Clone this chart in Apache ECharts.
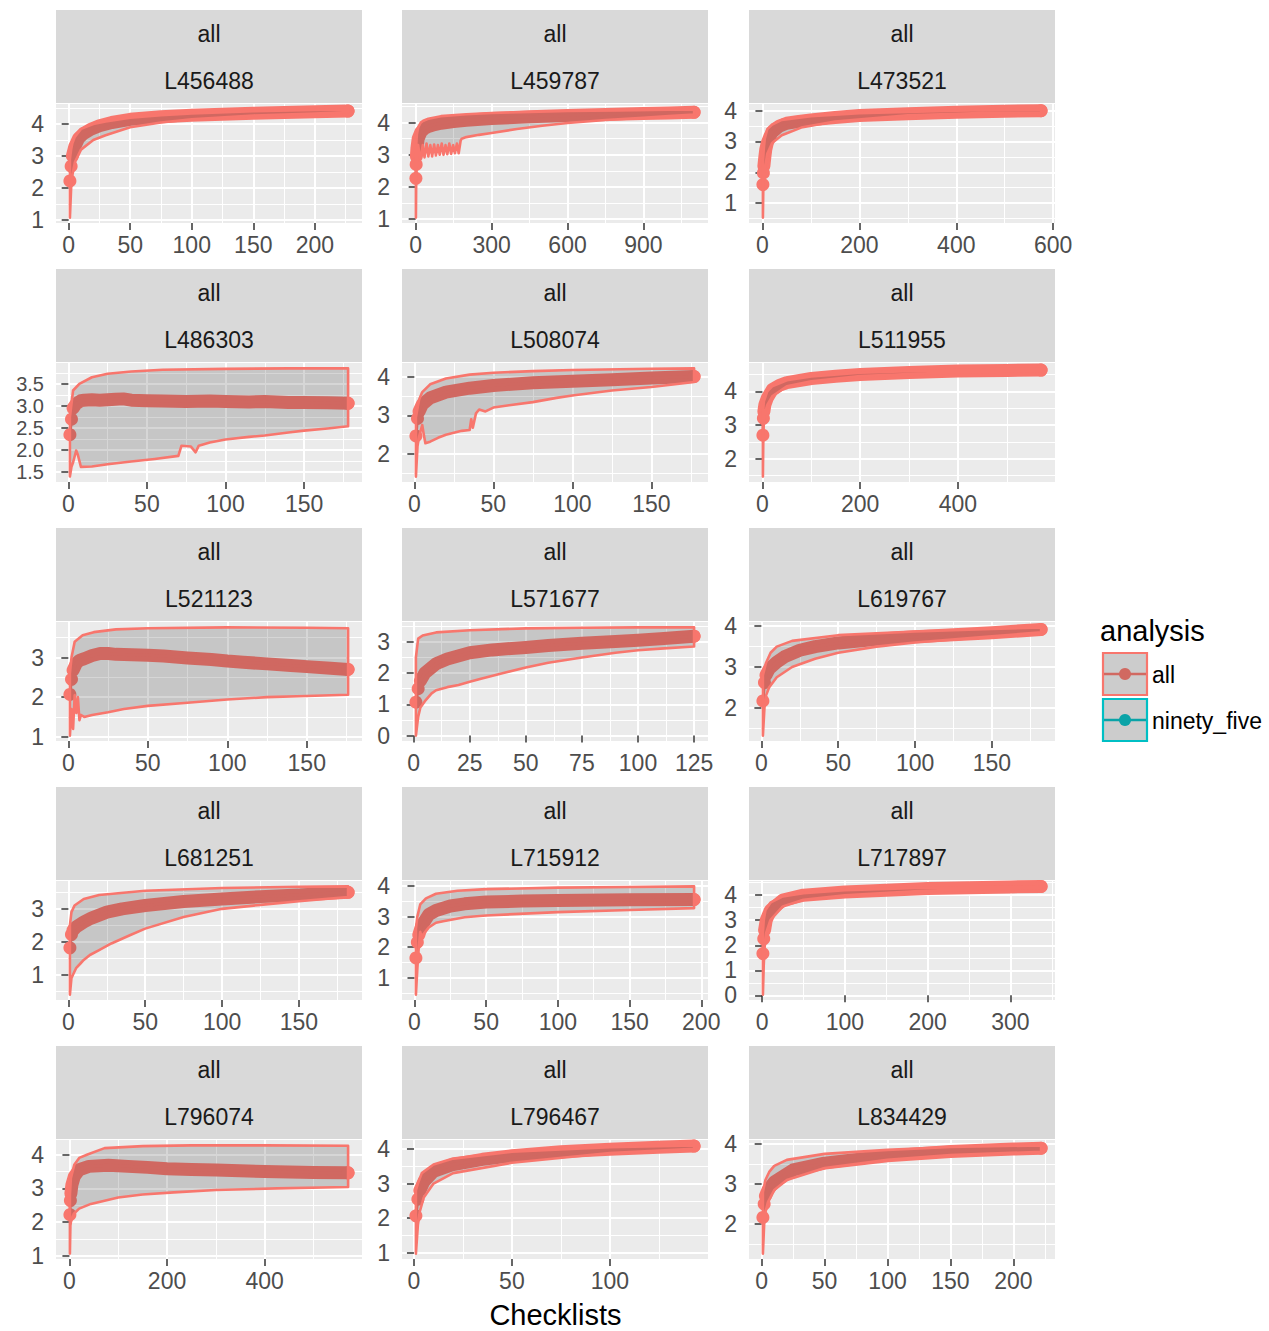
<!DOCTYPE html>
<html><head><meta charset="utf-8">
<script src="https://cdn.jsdelivr.net/npm/echarts@6/dist/echarts.min.js"></script>
<style>html,body{margin:0;padding:0;background:#fff}#c{width:1269px;height:1331px}</style>
</head><body><div id="c"></div>
<script>
// ---------- DATA ----------
const facetTop = 'all';
const seriesNames = ['all', 'ninety_five'];

const L456488_x = [1,2,3,5,8,12,18,25,35,50,75,100,125,150,175,200,227];
const L456488_mean = [2.22,2.68,3.0,3.3,3.55,3.7,3.84,3.95,4.05,4.15,4.23,4.28,4.31,4.34,4.36,4.39,4.41];
const L456488_lox = [1,2,3,5,10,20,30,50,75,100,150,200,227];
const L456488_lo = [1.07,2.0,2.4,2.8,3.2,3.5,3.65,3.9,4.05,4.15,4.27,4.33,4.38];
const L456488_hix = [1,2,3,5,10,20,30,50,75,100,150,200,227];
const L456488_hi = [2.9,3.2,3.4,3.6,3.85,4.0,4.08,4.2,4.28,4.33,4.4,4.44,4.46];
const L456488_xticks = ['0','50','100','150','200'];
const L456488_yticks = ['1','2','3','4'];

const L459787_x = [1,2,3,5,10,20,35,50,75,100,150,200,300,450,600,750,900,1000,1100];
const L459787_mean = [2.27,2.7,2.95,3.2,3.5,3.7,3.82,3.88,3.94,3.98,4.03,4.07,4.13,4.18,4.22,4.25,4.28,4.3,4.32];
const L459787_lox = [1,2,3,6,10,15,20,28,35,43,50,58,65,73,80,88,95,103,110,118,125,133,140,148,155,163,170,178,182,200,250,300,400,500,600,750,900,1000,1100];
const L459787_lo = [1.05,2.0,2.5,2.9,3.3,3.0,2.9,3.3,2.92,3.35,2.95,3.3,2.95,3.32,2.98,3.3,3.0,3.35,3.0,3.3,3.02,3.35,3.03,3.3,3.05,3.35,3.05,3.45,3.5,3.55,3.62,3.68,3.8,3.9,3.99,4.08,4.15,4.2,4.25];
const L459787_hix = [1,2,3,5,10,20,30,50,100,200,300,450,600,800,1000,1100];
const L459787_hi = [2.9,3.2,3.4,3.65,3.85,4.0,4.06,4.12,4.2,4.26,4.3,4.33,4.36,4.38,4.4,4.41];
const L459787_xticks = ['0','300','600','900'];
const L459787_yticks = ['1','2','3','4'];

const L473521_x = [1,2,3,5,7,10,15,20,35,50,75,100,150,200,300,400,500,575];
const L473521_mean = [1.6,1.98,2.2,2.5,2.75,2.95,3.15,3.3,3.5,3.59,3.65,3.7,3.78,3.84,3.9,3.95,3.98,4.0];
const L473521_lox = [1,2,3,5,10,20,40,80,150,300,450,575];
const L473521_lo = [0.53,1.7,1.9,2.1,2.6,2.95,3.2,3.45,3.65,3.85,3.92,3.95];
const L473521_hix = [1,3,5,10,20,40,100,200,400,575];
const L473521_hi = [2.3,2.8,3.1,3.4,3.55,3.7,3.82,3.92,4.0,4.04];
const L473521_xticks = ['0','200','400','600'];
const L473521_yticks = ['1','2','3','4'];

const L486303_x = [1,2,3,5,8,10,15,20,25,30,35,40,50,60,75,90,100,115,125,140,150,165,178];
const L486303_mean = [2.35,2.7,2.95,3.05,3.12,3.13,3.14,3.13,3.14,3.15,3.16,3.13,3.12,3.11,3.1,3.11,3.1,3.09,3.1,3.08,3.08,3.07,3.06];
const L486303_lox = [1,2,3,5,6,8,15,25,40,55,70,72,78,81,83,90,100,115,125,140,150,165,178];
const L486303_lo = [1.4,1.62,1.72,1.99,1.9,1.62,1.63,1.68,1.74,1.8,1.87,2.1,2.08,1.95,2.1,2.17,2.24,2.3,2.33,2.4,2.44,2.49,2.54];
const L486303_hix = [1,3,7,15,25,40,60,100,140,178];
const L486303_hi = [2.75,3.35,3.5,3.65,3.73,3.78,3.82,3.84,3.85,3.85];
const L486303_xticks = ['0','50','100','150'];
const L486303_yticks = ['1.5','2.0','2.5','3.0','3.5'];

const L508074_x = [1,2,3,5,10,20,35,50,75,100,125,150,177];
const L508074_mean = [2.47,2.92,3.1,3.28,3.45,3.6,3.7,3.77,3.84,3.88,3.92,3.96,4.0];
const L508074_lox = [1,2,3,5,6,7,10,15,20,25,30,35,36,37,39,41,45,50,60,75,90,100,125,150,165,177];
const L508074_lo = [1.42,2.2,2.45,2.75,2.5,2.28,2.32,2.42,2.5,2.55,2.6,2.62,2.9,2.68,3.05,3.15,3.1,3.2,3.26,3.34,3.45,3.51,3.64,3.73,3.8,3.86];
const L508074_hix = [1,3,5,10,20,35,50,75,100,150,177];
const L508074_hi = [2.95,3.4,3.6,3.8,3.95,4.05,4.1,4.14,4.17,4.2,4.21];
const L508074_xticks = ['0','50','100','150'];
const L508074_yticks = ['2','3','4'];

const L511955_x = [1,2,3,5,10,20,35,50,100,150,200,300,400,500,570];
const L511955_mean = [2.7,3.2,3.4,3.6,3.8,4.05,4.18,4.26,4.38,4.45,4.5,4.56,4.6,4.62,4.63];
const L511955_lox = [1,2,3,5,10,20,50,100,200,400,570];
const L511955_lo = [1.47,2.8,3.1,3.35,3.6,3.85,4.15,4.3,4.45,4.57,4.6];
const L511955_hix = [1,3,10,20,50,100,200,400,570];
const L511955_hi = [3.3,3.7,4.0,4.15,4.33,4.44,4.55,4.64,4.68];
const L511955_xticks = ['0','200','400'];
const L511955_yticks = ['2','3','4'];

const L521123_x = [1,2,3,5,7,10,15,20,25,30,40,50,60,75,90,100,110,125,140,150,165,176];
const L521123_mean = [2.07,2.45,2.68,2.85,2.93,2.97,3.05,3.1,3.1,3.08,3.07,3.06,3.04,2.99,2.95,2.91,2.88,2.84,2.8,2.77,2.73,2.7];
const L521123_lox = [1,2,3,4,5,6,7,8,10,15,25,35,50,75,100,125,150,176];
const L521123_lo = [1.03,1.7,1.2,2.05,1.6,2.0,1.42,1.55,1.5,1.55,1.62,1.7,1.78,1.86,1.94,2.0,2.03,2.06];
const L521123_hix = [1,2,4,9,16,30,50,100,150,176];
const L521123_hi = [2.6,3.0,3.4,3.56,3.64,3.71,3.74,3.76,3.75,3.74];
const L521123_xticks = ['0','50','100','150'];
const L521123_yticks = ['1','2','3'];

const L571677_x = [1,2,3,5,10,15,25,35,50,60,75,90,100,110,125];
const L571677_mean = [1.07,1.5,1.75,2.0,2.3,2.45,2.65,2.74,2.82,2.88,2.95,3.01,3.05,3.1,3.18];
const L571677_lox = [1,2,3,5,8,10,15,20,25,30,40,50,60,75,90,100,110,125];
const L571677_lo = [0.0,0.6,0.9,1.1,1.35,1.45,1.55,1.62,1.72,1.82,2.0,2.18,2.33,2.5,2.65,2.73,2.78,2.85];
const L571677_hix = [1,2,4,10,25,50,75,100,125];
const L571677_hi = [2.5,3.1,3.2,3.3,3.37,3.43,3.45,3.46,3.46];
const L571677_xticks = ['0','25','50','75','100','125'];
const L571677_yticks = ['0','1','2','3'];

const L619767_x = [1,2,3,5,10,15,25,35,50,75,100,125,150,182];
const L619767_mean = [2.17,2.62,2.8,2.95,3.12,3.25,3.41,3.5,3.59,3.68,3.74,3.79,3.84,3.92];
const L619767_lox = [1,2,3,5,10,20,35,50,75,100,150,182];
const L619767_lo = [1.32,2.0,2.3,2.5,2.75,3.0,3.2,3.35,3.5,3.6,3.75,3.85];
const L619767_hix = [1,3,6,10,20,50,100,150,182];
const L619767_hi = [2.8,3.1,3.35,3.5,3.64,3.78,3.87,3.93,3.97];
const L619767_xticks = ['0','50','100','150'];
const L619767_yticks = ['2','3','4'];

const L681251_x = [1,2,3,5,10,15,25,35,50,75,100,125,150,182];
const L681251_mean = [1.82,2.22,2.35,2.45,2.6,2.72,2.9,3.0,3.1,3.22,3.3,3.37,3.42,3.5];
const L681251_lox = [1,2,3,5,8,10,14,20,28,40,50,75,100,125,150,182];
const L681251_lo = [0.4,0.9,1.0,1.2,1.35,1.45,1.6,1.75,1.95,2.2,2.4,2.75,3.0,3.12,3.23,3.36];
const L681251_hix = [1,2,4,10,20,50,100,150,182];
const L681251_hi = [2.5,2.9,3.1,3.3,3.42,3.55,3.63,3.67,3.68];
const L681251_xticks = ['0','50','100','150'];
const L681251_yticks = ['1','2','3'];

const L715912_x = [1,2,3,5,10,15,25,35,50,75,100,150,195];
const L715912_mean = [1.65,2.16,2.4,2.7,3.07,3.2,3.35,3.42,3.48,3.51,3.53,3.55,3.56];
const L715912_lox = [1,2,3,4,5,10,15,20,35,50,100,150,195];
const L715912_lo = [0.45,1.3,2.0,2.5,2.35,2.65,2.8,2.85,2.98,3.04,3.15,3.22,3.28];
const L715912_hix = [1,2,4,8,15,30,50,100,150,195];
const L715912_hi = [2.6,3.0,3.4,3.6,3.75,3.85,3.9,3.95,3.97,3.99];
const L715912_xticks = ['0','50','100','150','200'];
const L715912_yticks = ['1','2','3','4'];

const L717897_x = [1,2,3,5,10,25,50,100,150,200,250,300,337];
const L717897_mean = [1.67,2.26,2.6,3.0,3.4,3.8,4.0,4.13,4.2,4.27,4.3,4.33,4.35];
const L717897_lox = [1,2,3,5,10,25,50,100,200,337];
const L717897_lo = [0.03,1.2,1.9,2.5,3.0,3.55,3.82,4.0,4.18,4.28];
const L717897_hix = [1,2,4,10,25,50,100,200,337];
const L717897_hi = [2.5,3.0,3.4,3.7,3.95,4.08,4.2,4.3,4.33];
const L717897_xticks = ['0','100','200','300'];
const L717897_yticks = ['0','1','2','3','4'];

const L796074_x = [1,2,3,5,10,20,40,80,120,160,200,250,300,400,500,571];
const L796074_mean = [2.22,2.64,2.85,3.1,3.35,3.55,3.65,3.68,3.65,3.62,3.58,3.56,3.54,3.5,3.47,3.46];
const L796074_lox = [1,2,3,5,9,20,44,100,150,214,300,426,571];
const L796074_lo = [1.07,1.9,2.0,2.1,2.25,2.4,2.54,2.73,2.82,2.88,2.95,3.0,3.04];
const L796074_hix = [1,3,10,20,37,72,150,250,400,571];
const L796074_hi = [2.8,3.3,3.7,3.9,4.0,4.19,4.25,4.27,4.27,4.26];
const L796074_xticks = ['0','200','400','600'];
const L796074_yticks = ['1','2','3','4'];

const L796467_x = [1,2,3,5,10,20,35,50,75,100,125,143];
const L796467_mean = [2.07,2.55,2.8,3.05,3.35,3.55,3.7,3.8,3.92,3.99,4.05,4.08];
const L796467_lox = [1,2,3,5,10,20,50,100,143];
const L796467_lo = [0.98,1.8,2.2,2.6,3.0,3.3,3.6,3.88,4.0];
const L796467_hix = [1,2,4,10,20,50,100,143];
const L796467_hi = [2.8,3.0,3.3,3.55,3.72,3.92,4.05,4.1];
const L796467_xticks = ['0','50','100'];
const L796467_yticks = ['1','2','3','4'];

const L834429_x = [1,2,3,5,10,25,50,100,150,200,222];
const L834429_mean = [2.17,2.5,2.7,2.85,3.05,3.35,3.52,3.7,3.81,3.87,3.89];
const L834429_lox = [1,2,3,5,10,20,50,100,150,222];
const L834429_lo = [1.27,2.0,2.3,2.55,2.85,3.1,3.4,3.6,3.72,3.8];
const L834429_hix = [1,3,6,10,20,50,100,150,222];
const L834429_hi = [2.8,3.1,3.3,3.45,3.6,3.75,3.85,3.92,3.96];
const L834429_xticks = ['0','50','100','150','200'];
const L834429_yticks = ['2','3','4'];

const panels = [
  {id:'L456488', x:L456488_x, mean:L456488_mean, lox:L456488_lox, lo:L456488_lo, hix:L456488_hix, hi:L456488_hi, xt:L456488_xticks, yt:L456488_yticks},
  {id:'L459787', x:L459787_x, mean:L459787_mean, lox:L459787_lox, lo:L459787_lo, hix:L459787_hix, hi:L459787_hi, xt:L459787_xticks, yt:L459787_yticks},
  {id:'L473521', x:L473521_x, mean:L473521_mean, lox:L473521_lox, lo:L473521_lo, hix:L473521_hix, hi:L473521_hi, xt:L473521_xticks, yt:L473521_yticks},
  {id:'L486303', x:L486303_x, mean:L486303_mean, lox:L486303_lox, lo:L486303_lo, hix:L486303_hix, hi:L486303_hi, xt:L486303_xticks, yt:L486303_yticks},
  {id:'L508074', x:L508074_x, mean:L508074_mean, lox:L508074_lox, lo:L508074_lo, hix:L508074_hix, hi:L508074_hi, xt:L508074_xticks, yt:L508074_yticks},
  {id:'L511955', x:L511955_x, mean:L511955_mean, lox:L511955_lox, lo:L511955_lo, hix:L511955_hix, hi:L511955_hi, xt:L511955_xticks, yt:L511955_yticks},
  {id:'L521123', x:L521123_x, mean:L521123_mean, lox:L521123_lox, lo:L521123_lo, hix:L521123_hix, hi:L521123_hi, xt:L521123_xticks, yt:L521123_yticks},
  {id:'L571677', x:L571677_x, mean:L571677_mean, lox:L571677_lox, lo:L571677_lo, hix:L571677_hix, hi:L571677_hi, xt:L571677_xticks, yt:L571677_yticks},
  {id:'L619767', x:L619767_x, mean:L619767_mean, lox:L619767_lox, lo:L619767_lo, hix:L619767_hix, hi:L619767_hi, xt:L619767_xticks, yt:L619767_yticks},
  {id:'L681251', x:L681251_x, mean:L681251_mean, lox:L681251_lox, lo:L681251_lo, hix:L681251_hix, hi:L681251_hi, xt:L681251_xticks, yt:L681251_yticks},
  {id:'L715912', x:L715912_x, mean:L715912_mean, lox:L715912_lox, lo:L715912_lo, hix:L715912_hix, hi:L715912_hi, xt:L715912_xticks, yt:L715912_yticks},
  {id:'L717897', x:L717897_x, mean:L717897_mean, lox:L717897_lox, lo:L717897_lo, hix:L717897_hix, hi:L717897_hi, xt:L717897_xticks, yt:L717897_yticks},
  {id:'L796074', x:L796074_x, mean:L796074_mean, lox:L796074_lox, lo:L796074_lo, hix:L796074_hix, hi:L796074_hi, xt:L796074_xticks, yt:L796074_yticks},
  {id:'L796467', x:L796467_x, mean:L796467_mean, lox:L796467_lox, lo:L796467_lo, hix:L796467_hix, hi:L796467_hi, xt:L796467_xticks, yt:L796467_yticks},
  {id:'L834429', x:L834429_x, mean:L834429_mean, lox:L834429_lox, lo:L834429_lo, hix:L834429_hix, hi:L834429_hi, xt:L834429_xticks, yt:L834429_yticks}
];

// ---------- STYLE / LAYOUT ----------
const FONT = '"Liberation Sans", Arial, Helvetica, sans-serif';
const RED = '#F8766D', TEAL = '#00BFC4';
const RED_DIM = '#D16961', TEAL_DIM = '#0AA3A7';
const RIBBON_FILL = 'rgba(51,51,51,0.2)';
const colLeft = [56, 402, 749];
const PW = 306, PH = 119, STRIP_H = 93, ROW_PITCH = 259, TOP0 = 10;

const grids = [], xAxes = [], yAxes = [], series = [], graphics = [];

function midpoints(ticks, min, max) {
  const t = ticks.slice().sort((a,b)=>a-b);
  const step = t.length > 1 ? t[1]-t[0] : 1;
  const out = [];
  const k0 = Math.floor(min/step) - 1, k1 = Math.ceil(max/step) + 1;
  for (let k = k0; k <= k1; k++) {
    const v = (k + 0.5) * step;
    if (v > min && v < max) out.push(+v.toFixed(6));
  }
  return out;
}

panels.forEach((p, i) => {
  const r = Math.floor(i / 3), c = i % 3;
  const left = colLeft[c], top = TOP0 + ROW_PITCH * r;
  grids.push({left: left, top: top + STRIP_H + 1, width: PW, height: PH, show: true,
    backgroundColor: '#EBEBEB', borderWidth: 0, containLabel: false, outerBoundsMode: 'none'});

  const xs = p.x.concat(p.lox, p.hix);
  const ys = p.mean.concat(p.lo, p.hi);
  const x0 = Math.min(...xs), x1 = Math.max(...xs);
  const y0 = Math.min(...ys), y1 = Math.max(...ys);
  const ex = (x1 - x0) * 0.05, ey = (y1 - y0) * 0.05;
  const xmin = x0 - ex, xmax = x1 + ex, ymin = y0 - ey, ymax = y1 + ey;
  const xtv = p.xt.map(Number).filter(v => v >= xmin && v <= xmax);
  const ytv = p.yt.map(Number).filter(v => v >= ymin && v <= ymax);
  const ytvA = ytv.filter((v, k) => k % 2 === 0);
  const ytvB = ytv.filter((v, k) => k % 2 === 1);
  const ylab = {}; p.yt.forEach(s => { ylab[Number(s)] = s; });
  const xlab = {}; p.xt.forEach(s => { xlab[Number(s)] = s; });
  const yStepPx = ytv.length > 1 ? (ytv[1] - ytv[0]) / (ymax - ymin) * PH : 99;
  const yFont = Math.min(23, Math.floor(yStepPx - 1.5));
  const yLabelStyle = {color: '#4D4D4D', fontSize: yFont, fontFamily: FONT, margin: 12,
    lineHeight: yFont - 3, interval: 0, showMinLabel: true, showMaxLabel: true, hideOverlap: false,
    formatter: v => ylab[v] !== undefined ? ylab[v] : String(v)};

  const minorX = {
    gridIndex: i, type: 'value', min: xmin, max: xmax, position: 'bottom', offset: 0,
    axisLine: {show: false},
    axisTick: {show: false, customValues: midpoints(xtv, xmin, xmax)},
    axisLabel: {show: false},
    splitLine: {show: true, lineStyle: {color: '#FFFFFF', width: 1}}
  };
  const majorX = {
    gridIndex: i, type: 'value', min: xmin, max: xmax, position: 'bottom', offset: 0,
    axisLine: {show: false},
    axisTick: {show: true, length: 7, customValues: xtv, lineStyle: {color: '#333333', width: 1.5}},
    axisLabel: {show: true, customValues: xtv, color: '#4D4D4D', fontSize: 23, fontFamily: FONT, margin: 10,
      interval: 0, showMinLabel: true, showMaxLabel: true, hideOverlap: false,
      formatter: v => xlab[v] !== undefined ? xlab[v] : String(v)},
    splitLine: {show: true, lineStyle: {color: '#FFFFFF', width: 2}}
  };
  const minorY = {
    gridIndex: i, type: 'value', min: ymin, max: ymax, position: 'left', offset: 0,
    axisLine: {show: false},
    axisTick: {show: false, customValues: midpoints(ytv, ymin, ymax)},
    axisLabel: {show: false},
    splitLine: {show: true, lineStyle: {color: '#FFFFFF', width: 1}}
  };
  const majorY = {
    gridIndex: i, type: 'value', min: ymin, max: ymax, position: 'left', offset: 0,
    axisLine: {show: false},
    axisTick: {show: true, length: 7, customValues: ytv, lineStyle: {color: '#333333', width: 1.5}},
    axisLabel: Object.assign({show: true, customValues: ytvA}, yLabelStyle),
    splitLine: {show: true, lineStyle: {color: '#FFFFFF', width: 2}}
  };
  const altY = {
    gridIndex: i, type: 'value', min: ymin, max: ymax, position: 'left', offset: 0,
    axisLine: {show: false},
    axisTick: {show: false, length: 7, customValues: ytvB.length ? ytvB : ytvA},
    axisLabel: Object.assign({show: ytvB.length > 0, customValues: ytvB.length ? ytvB : ytvA}, yLabelStyle),
    splitLine: {show: false}
  };
  xAxes.push(minorX, majorX);
  yAxes.push(minorY, majorY, altY);
  const xi = 2 * i + 1, yi = 3 * i + 1;

  const meanPts = p.x.map((x, k) => [x, p.mean[k]]);
  const last = meanPts.length - 1;
  // thick band of mean points
  series.push({type: 'line', name: 'all', xAxisIndex: xi, yAxisIndex: yi, data: meanPts.slice(2),
    symbol: 'none', silent: true, z: 2,
    lineStyle: {color: RED, width: 13, cap: 'round', join: 'round'}});
  // thin mean line
  series.push({type: 'line', name: 'all', xAxisIndex: xi, yAxisIndex: yi, data: meanPts,
    symbol: 'none', silent: true, z: 2, lineStyle: {color: RED, width: 3}});
  // separate points (first two, last)
  series.push({type: 'scatter', name: 'all', xAxisIndex: xi, yAxisIndex: yi,
    data: [meanPts[0], meanPts[1], meanPts[last]], symbol: 'circle', symbolSize: 13, silent: true, z: 2,
    itemStyle: {color: RED, opacity: 1}});
  // ribbon (drawn on top, semi-transparent)
  const upper = p.hix.map((x, k) => [x, p.hi[k]]);
  const lower = p.lox.map((x, k) => [x, p.lo[k]]).reverse();
  const poly = upper.concat(lower);
  series.push({type: 'custom', name: 'all', coordinateSystem: 'cartesian2d', xAxisIndex: xi, yAxisIndex: yi,
    data: poly, encode: {x: 0, y: 1}, silent: true, z: 3,
    renderItem: (params, api) => {
      if (params.dataIndex !== 0) return null;
      const pts = poly.map(pt => api.coord(pt));
      return {type: 'polygon', shape: {points: pts},
        style: {fill: RIBBON_FILL, stroke: RED, lineWidth: 2.6, lineJoin: 'round'}};
    }});

  // strip
  graphics.push({type: 'rect', silent: true, shape: {x: left, y: top, width: PW, height: STRIP_H},
    style: {fill: '#D9D9D9'}});
  graphics.push({type: 'text', silent: true, x: left + PW / 2, y: top + 24,
    style: {text: facetTop, fill: '#1A1A1A', fontSize: 23, fontFamily: FONT,
      align: 'center', verticalAlign: 'middle', textAlign: 'center', textVerticalAlign: 'middle'}});
  graphics.push({type: 'text', silent: true, x: left + PW / 2, y: top + 71,
    style: {text: p.id, fill: '#1A1A1A', fontSize: 23, fontFamily: FONT,
      align: 'center', verticalAlign: 'middle', textAlign: 'center', textVerticalAlign: 'middle'}});
});

// axis title
graphics.push({type: 'text', silent: true, x: 555.5, y: 1315,
  style: {text: 'Checklists', fill: '#000000', fontSize: 29, fontFamily: FONT,
    align: 'center', verticalAlign: 'middle', textAlign: 'center', textVerticalAlign: 'middle'}});

// legend
graphics.push({type: 'text', silent: true, x: 1100, y: 631,
  style: {text: 'analysis', fill: '#000000', fontSize: 29, fontFamily: FONT,
    align: 'left', verticalAlign: 'middle', textAlign: 'left', textVerticalAlign: 'middle'}});
const keyCols = [[RED, RED_DIM], [TEAL, TEAL_DIM]];
seriesNames.forEach((nm, k) => {
  const ky = 653 + k * 46;
  graphics.push({type: 'rect', silent: true, shape: {x: 1103, y: ky, width: 44, height: 42},
    style: {fill: '#CCCCCC', stroke: keyCols[k][0], lineWidth: 2.2}});
  graphics.push({type: 'line', silent: true, shape: {x1: 1104, y1: ky + 21, x2: 1146, y2: ky + 21},
    style: {stroke: keyCols[k][1], lineWidth: 2.5}});
  graphics.push({type: 'circle', silent: true, shape: {cx: 1125, cy: ky + 21, r: 6},
    style: {fill: keyCols[k][1]}});
  graphics.push({type: 'text', silent: true, x: 1152, y: ky + 22,
    style: {text: nm, fill: '#000000', fontSize: 23, fontFamily: FONT,
      align: 'left', verticalAlign: 'middle', textAlign: 'left', textVerticalAlign: 'middle'}});
});

const chart = echarts.init(document.getElementById('c'), null, {renderer: 'svg', width: 1269, height: 1331});
chart.setOption({
  animation: false,
  backgroundColor: '#FFFFFF',
  grid: grids,
  xAxis: xAxes,
  yAxis: yAxes,
  series: series,
  graphic: {elements: graphics}
});
</script>
</body></html>
